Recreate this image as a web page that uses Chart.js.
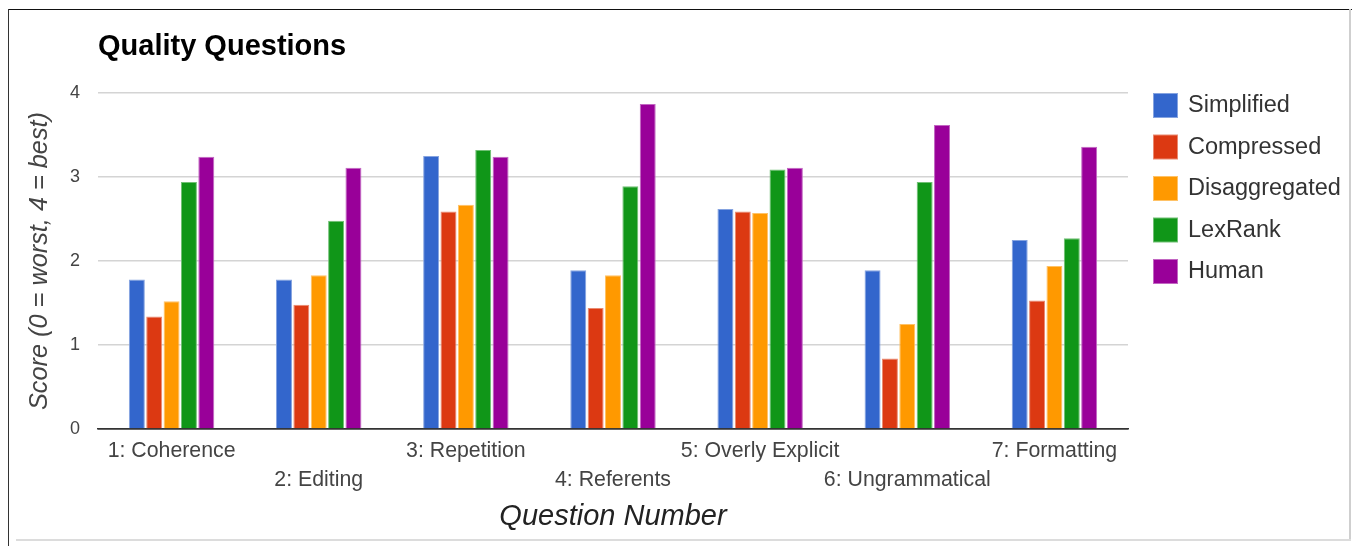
<!DOCTYPE html>
<html>
<head>
<meta charset="utf-8">
<script src="https://cdn.jsdelivr.net/npm/chart.js@4/dist/chart.umd.min.js"></script>
<style>
  html, body { margin: 0; padding: 0; background: #fff; }
  #wrap { position: relative; width: 1352px; height: 546px; overflow: hidden; }
  #c { position: absolute; left: 0; top: 0; }
  .edge { position: absolute; pointer-events: none; }
</style>
</head>
<body>
<div id="wrap">
  <canvas id="c" width="1352" height="546"></canvas>
  <div class="edge" style="left:8px;top:9px;width:1344px;height:1px;background:#111;"></div>
  <div class="edge" style="left:8px;top:9px;width:1px;height:537px;background:#333;"></div>
  <div class="edge" style="left:1349px;top:9px;width:2px;height:531px;background:#cfcfcf;"></div>
  <div class="edge" style="left:16px;top:539px;width:1335px;height:2px;background:#dcdcdc;"></div>
</div>
<script>
// Question categories along the x axis
const questions = ['1: Coherence', '2: Editing', '3: Repetition', '4: Referents',
                   '5: Overly Explicit', '6: Ungrammatical', '7: Formatting'];

// Mean score per question for each summary type
const simplified    = [1.78, 1.78, 3.25, 1.89, 2.62, 1.89, 2.25];
const compressed    = [1.34, 1.48, 2.59, 1.44, 2.59, 0.84, 1.53];
const disaggregated = [1.52, 1.83, 2.67, 1.83, 2.57, 1.25, 1.94];
const lexRank       = [2.94, 2.48, 3.32, 2.89, 3.09, 2.94, 2.27];
const human         = [3.24, 3.11, 3.24, 3.87, 3.11, 3.62, 3.36];

// Y axis tick values
const scoreTicks = [0, 1, 2, 3, 4];

const FONT = "Arial, 'Liberation Sans', sans-serif";

const series = [
  { label: 'Simplified',    data: simplified,    color: '#3366cc', edge: '#85a3e0' },
  { label: 'Compressed',    data: compressed,    color: '#dc3912', edge: '#ea8a70' },
  { label: 'Disaggregated', data: disaggregated, color: '#ff9900', edge: '#ffc266' },
  { label: 'LexRank',       data: lexRank,       color: '#109618', edge: '#70c074' },
  { label: 'Human',         data: human,         color: '#990099', edge: '#c266c2' }
];

// Legend drawn at the right of the plot, one swatch per dataset
const sideLegend = {
  id: 'sideLegend',
  afterDraw(chart) {
    const { ctx, chartArea } = chart;
    ctx.save();
    ctx.font = '23.5px ' + FONT;
    ctx.textBaseline = 'middle';
    ctx.textAlign = 'left';
    chart.data.datasets.forEach((ds, i) => {
      const x = chartArea.right + 25;
      const y = chartArea.top + i * 41.5;
      ctx.fillStyle = ds.borderColor;
      ctx.fillRect(x, y, 25, 25);
      ctx.fillStyle = ds.backgroundColor;
      ctx.fillRect(x + 1, y + 1, 23, 23);
      ctx.fillStyle = '#333';
      ctx.fillText(ds.label, x + 35, y + 13);
    });
    ctx.restore();
  }
};

new Chart(document.getElementById('c'), {
  type: 'bar',
  data: {
    labels: questions,
    datasets: series.map(s => ({
      label: s.label,
      data: s.data,
      backgroundColor: s.color,
      borderColor: s.edge,
      borderWidth: 1,
      borderSkipped: 'bottom',
      categoryPercentage: 0.59,
      barPercentage: 0.92
    }))
  },
  options: {
    responsive: false,
    animation: false,
    layout: { padding: { left: 0, right: 224, top: 0, bottom: 0 } },
    plugins: {
      legend: { display: false },
      tooltip: { enabled: false },
      title: {
        display: true,
        text: 'Quality Questions',
        align: 'start',
        fullSize: false,
        color: '#000',
        font: { family: FONT, size: 29, weight: 'bold', lineHeight: 1.2 },
        padding: { top: 29.5, bottom: 28.7 }
      }
    },
    scales: {
      x: {
        grid: { display: false, drawTicks: false },
        border: { display: true, color: '#333', width: 1.5 },
        ticks: {
          autoSkip: false,
          maxRotation: 0,
          minRotation: 0,
          padding: 8,
          color: '#444',
          font: { family: FONT, size: 21.3, lineHeight: 1.35 },
          callback: (v, i) => (i % 2 ? ['', questions[i]] : questions[i])
        },
        title: {
          display: true,
          text: 'Question Number',
          color: '#222',
          font: { family: FONT, size: 29, style: 'italic', lineHeight: 1.2 },
          padding: { top: 12, bottom: 12 }
        },
        afterFit: scale => { scale.height = 117; }
      },
      y: {
        min: 0,
        max: 4,
        afterBuildTicks: scale => { scale.ticks = scoreTicks.map(v => ({ value: v })); },
        grid: {
          drawTicks: false,
          color: ctx => (ctx.tick && ctx.tick.value === 0 ? '#333' : '#d4d4d4'),
          lineWidth: 1.5
        },
        border: { display: false },
        ticks: {
          padding: 18,
          color: '#444',
          font: { family: FONT, size: 18 }
        },
        title: {
          display: true,
          text: 'Score (0 = worst, 4 = best)',
          color: '#444',
          font: { family: FONT, size: 25.3, style: 'italic', lineHeight: 1.2 },
          padding: { top: 24.5, bottom: 10 }
        },
        afterFit: scale => { scale.width = 98; }
      }
    }
  },
  plugins: [sideLegend]
});
</script>
</body>
</html>
